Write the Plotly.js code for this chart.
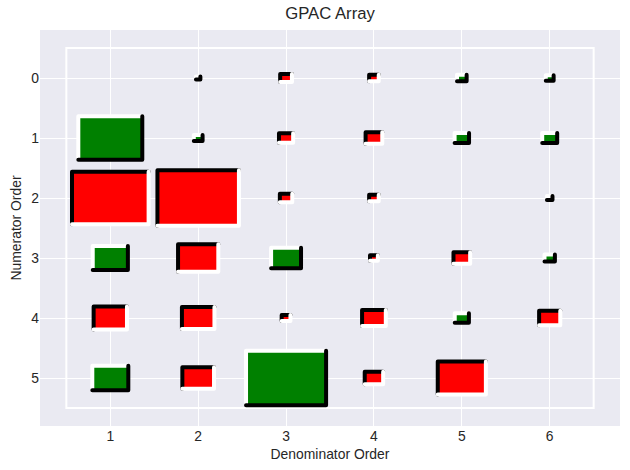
<!DOCTYPE html>
<html>
<head>
<meta charset="utf-8">
<script src="https://cdn.plot.ly/plotly-3.0.1.min.js"></script>
<style>
  html, body { margin: 0; padding: 0; background: #ffffff; }
  #chart { width: 630px; height: 470px; }
</style>
</head>
<body>
<div id="chart"></div>
<script>
// ---- Data (GPAC values, rows = numerator order, columns = denominator order) ----
const denominatorOrders = [1, 2, 3, 4, 5, 6];
const numeratorOrders = [0, 1, 2, 3, 4, 5];

const gpacRow0 = [null, 0.0025, -0.018, -0.012, 0.012, 0.008];
const gpacRow1 = [0.53, 0.010, -0.026, -0.036, 0.027, 0.029];
const gpacRow2 = [-0.76, -0.86, -0.020, -0.012, null, 0.004];
const gpacRow3 = [0.16, -0.21, 0.116, -0.008, -0.036, 0.014];
const gpacRow4 = [-0.144, -0.137, -0.010, -0.073, 0.026, -0.058];
const gpacRow5 = [0.168, -0.130, 0.83, -0.044, -0.30, null];

const gpacRows = [gpacRow0, gpacRow1, gpacRow2, gpacRow3, gpacRow4, gpacRow5];

// ---- Build Hinton-style boxes ----
let maxAbs = 0;
gpacRows.forEach(r => r.forEach(v => { if (v !== null && Math.abs(v) > maxAbs) maxAbs = Math.abs(v); }));
const maxWeight = Math.pow(2, Math.ceil(Math.log2(maxAbs)));

const shapes = [];
// outer frame
shapes.push({
  type: 'rect', xref: 'x', yref: 'y',
  x0: denominatorOrders[0] - 0.5, x1: denominatorOrders[denominatorOrders.length - 1] + 0.5,
  y0: numeratorOrders[0] - 0.5, y1: numeratorOrders[numeratorOrders.length - 1] + 0.5,
  line: { color: '#ffffff', width: 2 }, fillcolor: 'rgba(0,0,0,0)', layer: 'above'
});

const cx = [], cy = [], ctext = [];
gpacRows.forEach((row, i) => {
  row.forEach((v, j) => {
    if (v === null) return;
    const x = denominatorOrders[j];
    const y = numeratorOrders[i];
    cx.push(x); cy.push(y); ctext.push(v.toFixed(3));
    const s = Math.sqrt(Math.abs(v) / maxWeight);
    const x0 = x - s / 2, x1 = x + s / 2;
    const yt = y - s / 2, yb = y + s / 2; // yt = visually top (axis reversed)
    const pos = v > 0;
    shapes.push({
      type: 'rect', xref: 'x', yref: 'y', x0: x0, x1: x1, y0: yt, y1: yb,
      fillcolor: pos ? '#008000' : '#ff0000', line: { width: 0 }, layer: 'above'
    });
    // top-left edge
    shapes.push({
      type: 'path', xref: 'x', yref: 'y',
      path: `M ${x0},${yb} L ${x0},${yt} L ${x1},${yt}`,
      line: { color: pos ? '#ffffff' : '#000000', width: 4 }, fillcolor: 'rgba(0,0,0,0)', layer: 'above'
    });
    // bottom-right edge
    shapes.push({
      type: 'path', xref: 'x', yref: 'y',
      path: `M ${x0},${yb} L ${x1},${yb} L ${x1},${yt}`,
      line: { color: pos ? '#000000' : '#ffffff', width: 4 }, fillcolor: 'rgba(0,0,0,0)', layer: 'above'
    });
  });
});

const trace = {
  type: 'scatter', mode: 'markers', x: cx, y: cy, text: ctext,
  marker: { opacity: 0, size: 10 }, hoverinfo: 'text', showlegend: false
};

const fontFam = '"Liberation Sans", Arial, sans-serif';
const layout = {
  width: 630, height: 470,
  margin: { l: 40, r: 10, t: 30, b: 44, pad: 0 },
  paper_bgcolor: '#ffffff',
  plot_bgcolor: '#EAEAF2',
  font: { family: fontFam, color: '#262626', size: 14 },
  title: {
    text: 'GPAC Array', font: { family: fontFam, size: 16.7, color: '#262626' },
    x: 0.5, xref: 'paper', y: 0.972, yref: 'container', yanchor: 'middle'
  },
  xaxis: {
    range: [0.2, 6.8], autorange: false,
    tickvals: denominatorOrders, ticktext: denominatorOrders.map(String),
    showgrid: true, gridcolor: '#ffffff', gridwidth: 1,
    zeroline: false, showline: false, ticks: '',
    tickfont: { family: fontFam, size: 13.9, color: '#262626' },
    title: { text: 'Denominator Order', font: { family: fontFam, size: 13.9, color: '#262626' }, standoff: 6 }
  },
  yaxis: {
    range: [5.8, -0.8], autorange: false,
    tickvals: numeratorOrders, ticktext: numeratorOrders.map(String),
    showgrid: true, gridcolor: '#ffffff', gridwidth: 1,
    zeroline: false, showline: false, ticks: '',
    tickfont: { family: fontFam, size: 13.9, color: '#262626' },
    title: { text: 'Numerator Order', font: { family: fontFam, size: 13.9, color: '#262626' }, standoff: 6 }
  },
  shapes: shapes,
  showlegend: false
};

Plotly.newPlot('chart', [trace], layout, { displayModeBar: false, staticPlot: true }).then(gd => {
  // rounded line ends on the box edges, like the reference
  gd.querySelectorAll('.shapelayer path').forEach(p => {
    const w = parseFloat(p.style.strokeWidth || p.getAttribute('stroke-width') || '0');
    if (w === 4) {
      p.style.strokeLinecap = 'round';
      p.style.strokeLinejoin = 'round';
    }
  });
});
</script>
</body>
</html>
